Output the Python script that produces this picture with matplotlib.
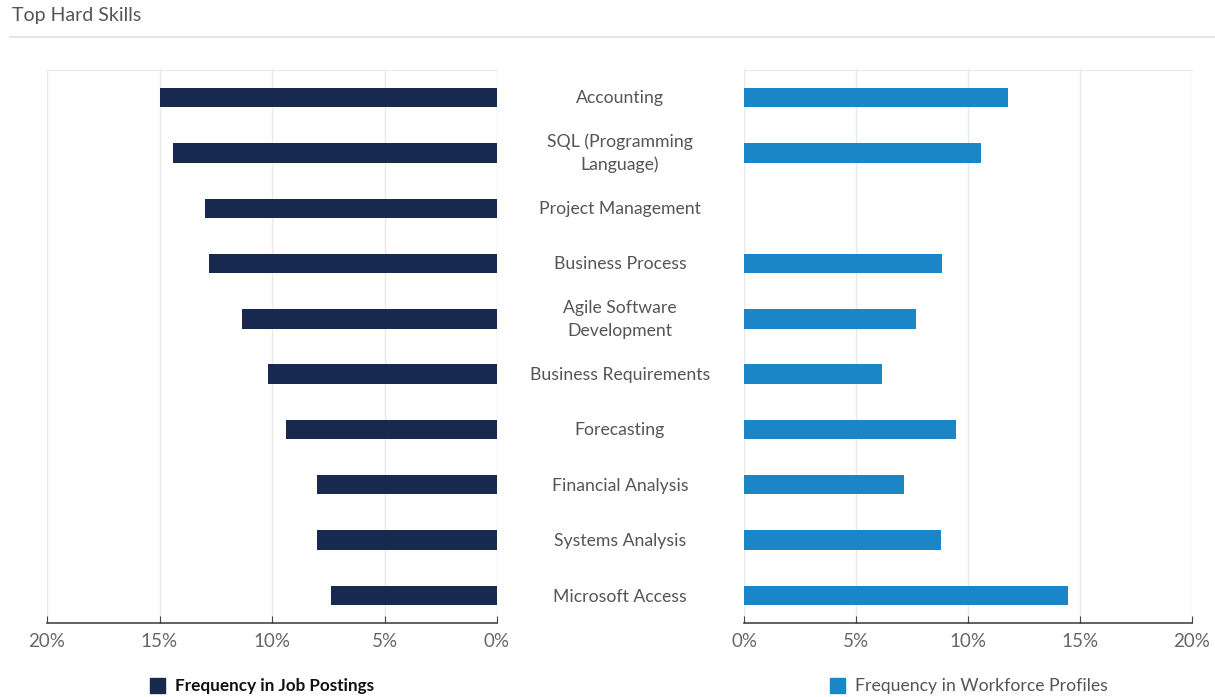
import matplotlib
matplotlib.use("Agg")
import matplotlib.pyplot as plt
from matplotlib.lines import Line2D
from matplotlib.patches import Rectangle

skills = ["Accounting", "SQL (Programming\nLanguage)", "Project Management", "Business Process",
          "Agile Software\nDevelopment", "Business Requirements", "Forecasting",
          "Financial Analysis", "Systems Analysis", "Microsoft Access"]
job_postings = [15.0, 14.4, 13.0, 12.8, 11.35, 10.2, 9.4, 8.0, 8.0, 7.4]
workforce_profiles = [11.8, 10.6, 0.0, 8.85, 7.7, 6.15, 9.45, 7.15, 8.8, 14.45]
ticks = [0, 5, 10, 15, 20]
tick_labels = ["0%", "5%", "10%", "15%", "20%"]

plt.rcParams['font.family'] = ['Lato', 'DejaVu Sans']

navy = "#17294f"
blue = "#1a86c8"
grid_c = "#e8e8e8"
text_c = "#555555"

fig = plt.figure(figsize=(12.15, 6.97), dpi=100)
axL = fig.add_axes([47/1215, 74/697, 450/1215, 553/697])
axR = fig.add_axes([744/1215, 74/697, 448/1215, 553/697])

ypos = list(range(len(skills)))
axL.barh(ypos, job_postings, height=0.35, color=navy, zorder=3)
axR.barh(ypos, workforce_profiles, height=0.35, color=blue, zorder=3)

for ax in (axL, axR):
    ax.set_ylim(len(skills) - 0.5, -0.5)
    ax.set_xlim(0, 20)
    ax.set_xticks(ticks)
    ax.set_xticklabels(tick_labels, fontsize=13.5, color="#666666")
    ax.set_yticks([])
    ax.grid(axis='x', color=grid_c, linewidth=1, zorder=0)
    for s in ("left", "right"):
        ax.spines[s].set_visible(False)
    ax.spines["top"].set_color(grid_c)
    ax.spines["bottom"].set_color("#444444")
    ax.spines["bottom"].set_linewidth(1.2)
    ax.tick_params(axis='x', direction='in', length=5, color="#444444", pad=7)
axL.invert_xaxis()

# category labels in the middle
for i, s in enumerate(skills):
    fig.text(620/1215, 1 - (98 + i * 55.4) / 697, s, ha='center', va='center',
             fontsize=12.7, color=text_c, linespacing=1.5)

# title and separator
fig.text(12/1215, 1 - 16/697, "Top Hard Skills", ha='left', va='center',
         fontsize=14, color=text_c)
fig.add_artist(Line2D([10/1215, 1.0], [1 - 37/697, 1 - 37/697], color="#e2e2e2", linewidth=1.2))

# legends
fig.add_artist(Rectangle((150/1215, 1 - 693/697), 15/1215, 15/697, color=navy))
fig.text(175/1215, 1 - 686/697, "Frequency in Job Postings", ha='left', va='center',
         fontsize=12.3, color="#111111", fontweight='bold')
fig.add_artist(Rectangle((830/1215, 1 - 693/697), 15/1215, 15/697, color=blue))
fig.text(855/1215, 1 - 686/697, "Frequency in Workforce Profiles", ha='left', va='center',
         fontsize=12.7, color=text_c)

fig.savefig("out.png", dpi=100, facecolor="white")
